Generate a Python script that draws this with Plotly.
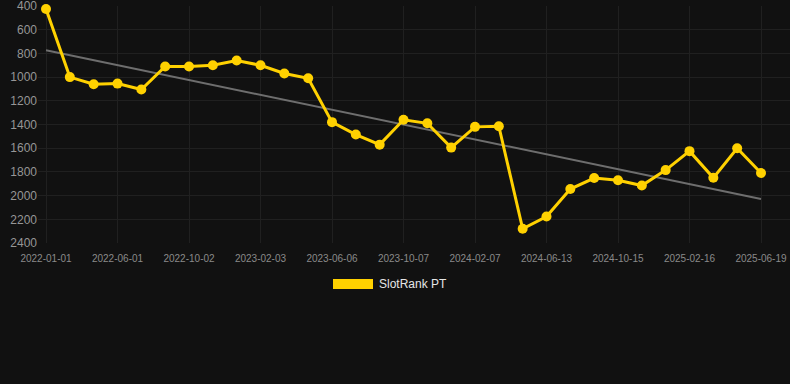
import numpy as np
import plotly.graph_objects as go

dates = ["2022-01-01", "2022-02-20", "2022-04-11", "2022-06-01", "2022-07-12", "2022-08-22",
         "2022-10-02", "2022-11-12", "2022-12-23", "2023-02-03", "2023-03-15", "2023-04-25",
         "2023-06-06", "2023-07-16", "2023-08-27", "2023-10-07", "2023-11-17", "2023-12-28",
         "2024-02-07", "2024-03-19", "2024-05-02", "2024-06-13", "2024-07-24", "2024-09-03",
         "2024-10-15", "2024-11-25", "2025-01-06", "2025-02-16", "2025-03-29", "2025-05-09",
         "2025-06-19"]
ranks = [425, 1000, 1060, 1055, 1105, 910, 910, 900, 860, 900, 970, 1010,
         1380, 1485, 1570, 1360, 1390, 1595, 1420, 1415, 2280, 2177, 1945, 1852,
         1870, 1915, 1785, 1625, 1850, 1600, 1810]
tick_labels = dates[::3]
y_ticks = [400, 600, 800, 1000, 1200, 1400, 1600, 1800, 2000, 2200, 2400]
series_name = "SlotRank PT"

idx = np.arange(len(ranks))
slope, intercept = np.polyfit(idx, ranks, 1)
trend = [intercept + slope * i for i in idx]

fig = go.Figure()
fig.add_trace(go.Scatter(x=dates, y=trend, mode="lines",
                         line=dict(color="#6e6e6e", width=2), showlegend=False,
                         hoverinfo="skip"))
fig.add_trace(go.Scatter(x=dates, y=ranks, mode="lines+markers", name=series_name,
                         line=dict(color="#FFD100", width=3),
                         marker=dict(color="#FFD100", size=10), showlegend=False,
                         cliponaxis=False))

# legend box
fig.add_shape(type="rect", xref="paper", yref="paper",
              x0=(333 - 38) / 752, x1=(373 - 38) / 752,
              y0=(243 - 289) / 237, y1=(243 - 279) / 237,
              fillcolor="#FFD100", line=dict(width=0))
fig.add_annotation(xref="paper", yref="paper", x=(377 - 38) / 752, y=(243 - 284) / 237,
                   text=series_name, showarrow=False, xanchor="left", yanchor="middle",
                   font=dict(size=12, color="#e6e6e6", family="Liberation Sans, Arial"))

fig.update_layout(
    width=790, height=384,
    margin=dict(l=38, r=0, t=6, b=141),
    paper_bgcolor="#111111", plot_bgcolor="#111111",
    font=dict(family="Liberation Sans, Arial", color="#8c8c8c"),
)
fig.update_xaxes(type="category", range=[-0.336, 31.217],
                 tickvals=tick_labels, ticktext=tick_labels,
                 tickfont=dict(size=10, color="#8a8a8a"),
                 showgrid=True, gridcolor="#202020", gridwidth=1,
                 zeroline=False, showline=False, ticks="", ticklabelstandoff=8,
                 ticklabeloverflow="allow")
fig.update_yaxes(range=[2400, 400], tickvals=y_ticks,
                 tickfont=dict(size=12, color="#969696"),
                 showgrid=True, gridcolor="#202020", gridwidth=1,
                 zeroline=False, showline=False, ticks="",
                 ticklabeloverflow="allow")

fig.write_html("out.html", config={"displayModeBar": False},
               post_script="document.body.style.margin='0';document.body.style.background='#111111';")
